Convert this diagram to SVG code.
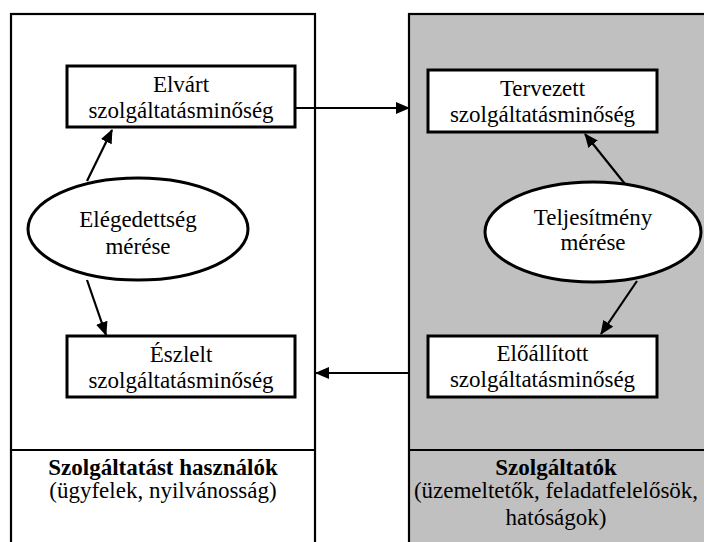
<svg xmlns="http://www.w3.org/2000/svg" width="704" height="542" viewBox="0 0 704 542">
<style>
.panel{stroke:#000;stroke-width:2.2}
.box{fill:#fff;stroke:#000;stroke-width:3}
.ell{fill:#fff;stroke:#000;stroke-width:3}
.t{font-size:23px;fill:#000;text-anchor:middle}
.b{font-weight:bold}
.c{stroke:#000;stroke-width:2.2;fill:none}
</style>
<defs>
<marker id="ah" markerUnits="userSpaceOnUse" markerWidth="14" markerHeight="12" refX="13" refY="6" orient="auto">
<path d="M0,0 L14,6 L0,12 Z" fill="#000"/>
</marker>
</defs>
<rect width="704" height="542" fill="#fff"/>
<g font-family="'Liberation Serif', 'Times New Roman', 'DejaVu Serif', serif">
<g id="panel-users">
<rect class="panel" x="11" y="14" width="304" height="540" fill="#fff"/>
<line class="panel" x1="11" y1="450" x2="315" y2="450"/>
<text class="t b" x="163" y="475">Szolgáltatást használók</text>
<text class="t" x="163" y="498">(ügyfelek, nyilvánosság)</text>
</g>
<g id="panel-providers">
<rect class="panel" x="409" y="14" width="300" height="540" fill="#c0c0c0"/>
<line class="panel" x1="409" y1="450" x2="709" y2="450"/>
<text class="t b" x="556" y="475">Szolgáltatók</text>
<text class="t" x="556" y="498">(üzemeltetők, feladatfelelősök,</text>
<text class="t" x="556" y="525">hatóságok)</text>
</g>
<g id="elvart">
<rect class="box" x="67" y="66" width="228" height="61"/>
<text class="t" x="181" y="92">Elvárt</text>
<text class="t" x="181" y="118">szolgáltatásminőség</text>
</g>
<g id="tervezett">
<rect class="box" x="428" y="70" width="229" height="62"/>
<text class="t" x="542.5" y="96">Tervezett</text>
<text class="t" x="542.5" y="122">szolgáltatásminőség</text>
</g>
<g id="eszlelt">
<rect class="box" x="67" y="336" width="228" height="61"/>
<text class="t" x="181" y="362">Észlelt</text>
<text class="t" x="181" y="388">szolgáltatásminőség</text>
</g>
<g id="eloallitott">
<rect class="box" x="428" y="336" width="229" height="61"/>
<text class="t" x="542.5" y="361">Előállított</text>
<text class="t" x="542.5" y="387">szolgáltatásminőség</text>
</g>
<g id="elegedettseg">
<ellipse class="ell" cx="138" cy="229" rx="110" ry="51"/>
<text class="t" x="138" y="227">Elégedettség</text>
<text class="t" x="138" y="254">mérése</text>
</g>
<g id="teljesitmeny">
<ellipse class="ell" cx="593" cy="232" rx="108" ry="50"/>
<text class="t" x="593" y="225">Teljesítmény</text>
<text class="t" x="593" y="250">mérése</text>
</g>
</g>
<g id="connectors">
<line class="c" x1="87" y1="181" x2="112" y2="130" marker-end="url(#ah)"/>
<line class="c" x1="87" y1="280" x2="106" y2="335" marker-end="url(#ah)"/>
<line class="c" x1="625" y1="184" x2="585" y2="134" marker-end="url(#ah)"/>
<line class="c" x1="637" y1="281" x2="601" y2="334" marker-end="url(#ah)"/>
<line class="c" x1="295" y1="108" x2="409" y2="108" marker-end="url(#ah)"/>
<line class="c" x1="409" y1="373" x2="316" y2="373" marker-end="url(#ah)"/>
</g>
</svg>
